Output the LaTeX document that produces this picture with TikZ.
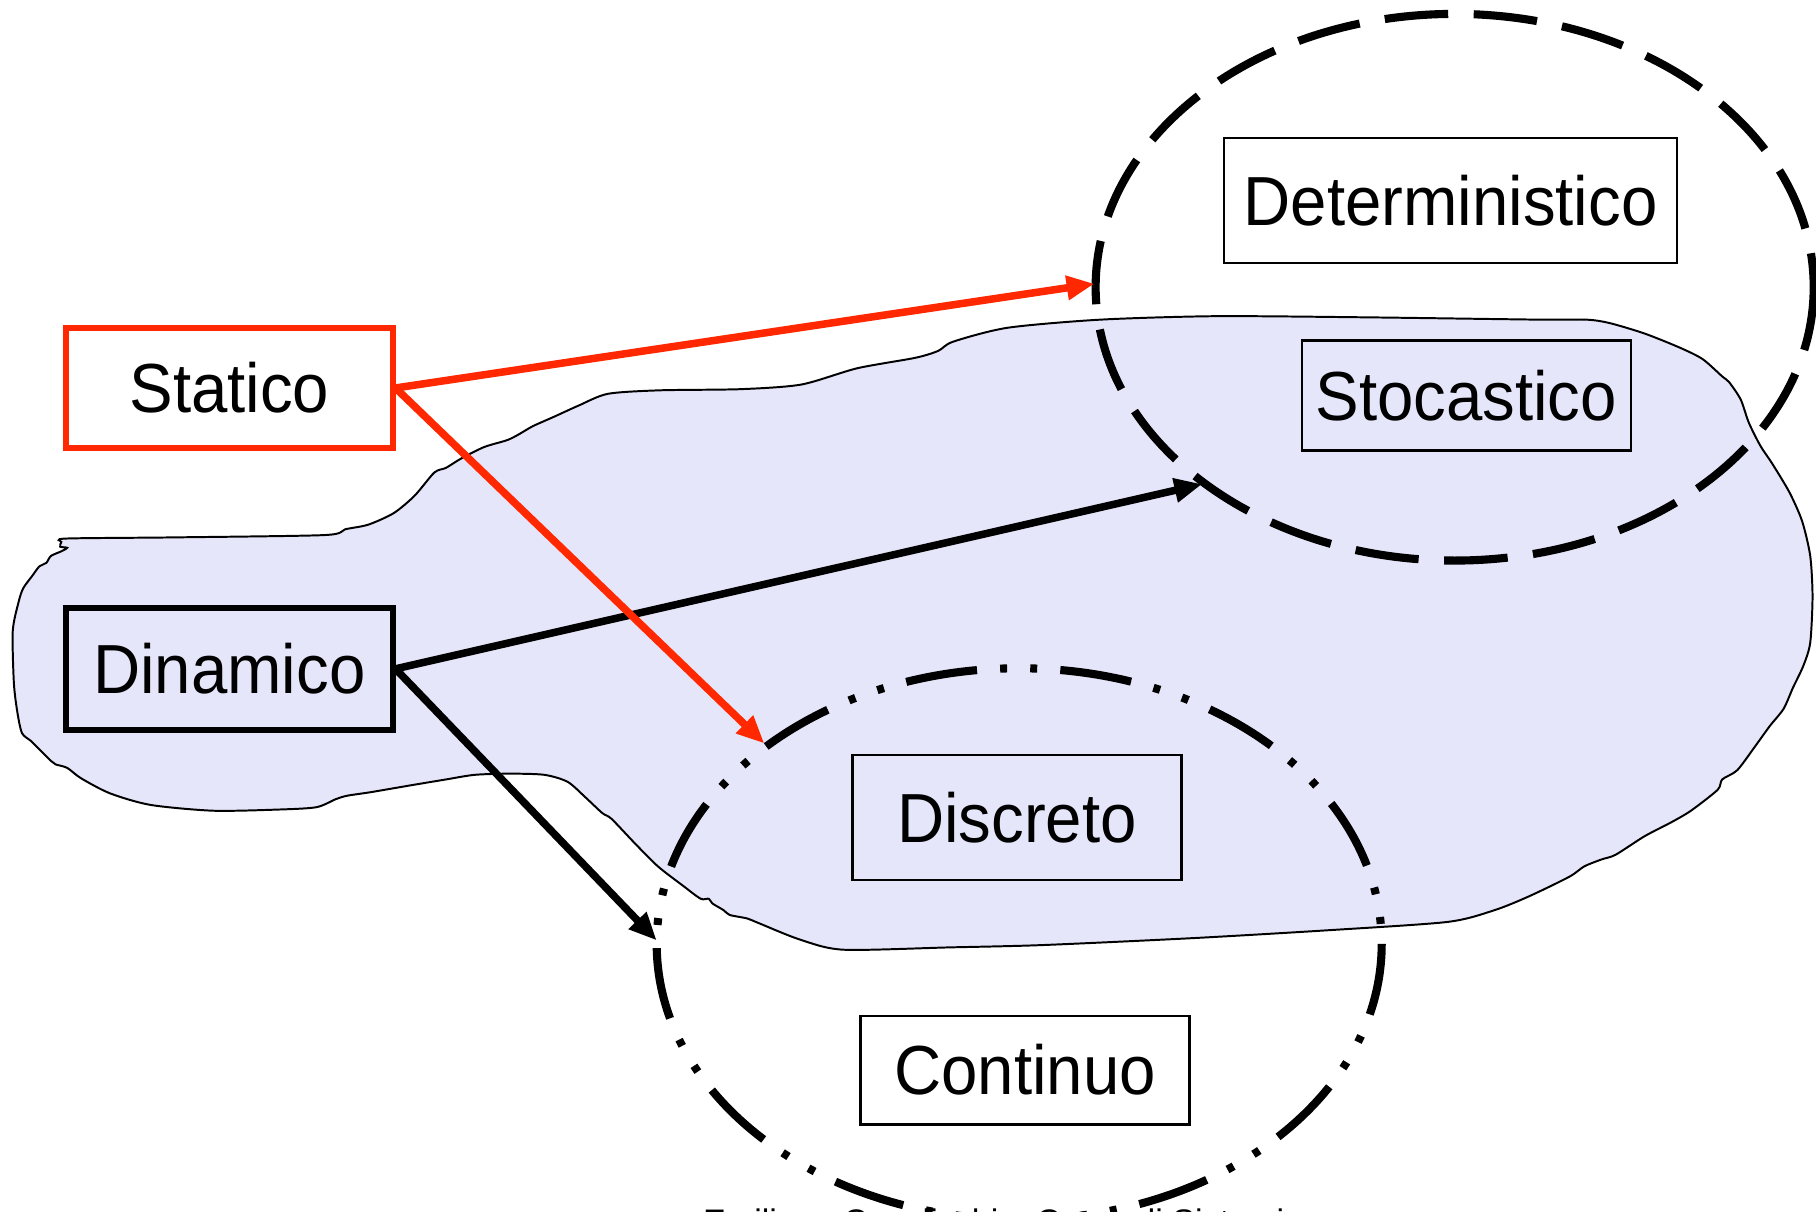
\documentclass[tikz,border=0pt]{standalone}
\usepackage{fontspec}
\setmainfont{Liberation Sans}[FakeStretch=0.94]
\newfontfamily\footerfont{Liberation Sans}
\usetikzlibrary{arrows.meta}
\definecolor{redline}{RGB}{255,40,0}
\definecolor{blobfill}{RGB}{230,230,250}
\newcommand\catfont{\fontsize{60}{72}\selectfont}

\begin{document}
\begin{tikzpicture}[x=1pt,y=-1pt,
  catbox/.style={draw, line width=2pt, inner sep=0pt, font=\catfont},
  mainbox/.style={draw, line width=5pt, inner sep=0pt, font=\catfont},
  conn/.style={line width=6.5pt, -{Triangle[length=24pt,width=20pt]}},
  setA/.style={line width=7pt, dash pattern=on 55pt off 22pt},
  setB/.style={line width=7pt, dash pattern=on 62pt off 20pt on 6pt off 20pt on 6pt off 20pt}]

\useasboundingbox (0,0) rectangle (1568,1046);
\clip (0,0) rectangle (1568,1046);

% region of the dynamic models
\draw[fill=blobfill, line width=1.7pt] plot[smooth cycle, tension=0.45] coordinates {
 (57,465) (150,464) (280,462) (298,457) (318,453) (340,443) (358,428) (375,408)
 (385,404) (398,396) (418,386) (438,380) (448,375) (460,368) (478,360) (500,350)
 (525,340) (570,337) (640,336) (692,332) (740,318) (790,309) (810,303) (823,295)
 (870,283) (950,276) (1050,273) (1180,274) (1330,276) (1370,276) (1390,279)
 (1420,288) (1450,300) (1470,310) (1487,325) (1493,330) (1503,345) (1510,365)
 (1520,385) (1530,400) (1545,425) (1556,450) (1563,480) (1565,515) (1563,555)
 (1557,575) (1548,594) (1540,612) (1528,627) (1515,645) (1500,665) (1487,673)
 (1483,682) (1460,700) (1443,710) (1420,722) (1395,738) (1383,742) (1368,748)
 (1355,757) (1320,774) (1290,786) (1250,796) (1150,803) (1030,810) (900,816)
 (820,818) (728,820) (690,811) (655,797) (645,793) (630,790) (625,786) (615,780)
 (612,776) (605,776) (590,765) (568,748) (548,728) (528,707) (520,702) (505,688)
 (490,675) (470,669) (440,668) (410,669) (385,673) (355,678) (320,684) (300,687)
 (290,690) (273,697) (240,699) (184,700) (130,695) (95,685) (70,672) (58,663)
 (48,660) (44,657) (35,648) (27,640) (19,633) (15,615) (12,590) (11,545)
 (16,520) (20,508) (28,497) (34,489) (40,486) (44,480) (53,476) (58,473)
 (52,472) (53,468)};

% the two overlapping sets
\draw[setA] (1256,248) ellipse [x radius=310, y radius=236];
\draw[setB] (880,815) ellipse [x radius=313, y radius=238];

% category boxes
\node[mainbox, draw=redline, minimum width=282pt, minimum height=104pt] (stat) at (198,335) {Statico};
\node[mainbox, minimum width=282pt, minimum height=105pt] (dyn) at (198,577.5) {Dinamico};
\node[catbox, minimum width=391pt, minimum height=108pt] (det) at (1252.5,173) {Deterministico};
\node[catbox, minimum width=284pt, minimum height=95pt] (sto) at (1266,341.5) {Stocastico};
\node[catbox, minimum width=284pt, minimum height=108pt] (dis) at (878,706) {Discreto};
\node[catbox, minimum width=284pt, minimum height=94pt] (con) at (885,924) {Continuo};

% arrow end points on the set borders
\coordinate (detIn) at (945,245);
\coordinate (disIn) at (660,642);
\coordinate (stoIn) at (1038,418);
\coordinate (conIn) at (567,812);

\draw[conn] (dyn.east) -- (stoIn);
\draw[conn] (dyn.east) -- (conIn);
\draw[conn, draw=redline, fill=redline] (stat.east) -- (detIn);
\draw[conn, draw=redline, fill=redline] (stat.east) -- (disIn);

% footer line, cut by the page edge
\node[anchor=base west, inner sep=0pt, font=\footerfont\fontsize{29.4}{35}\selectfont] (foot) at (607,1065) {Emiliano Casalicchio, Corso di Sistemi};
\end{tikzpicture}
\end{document}
